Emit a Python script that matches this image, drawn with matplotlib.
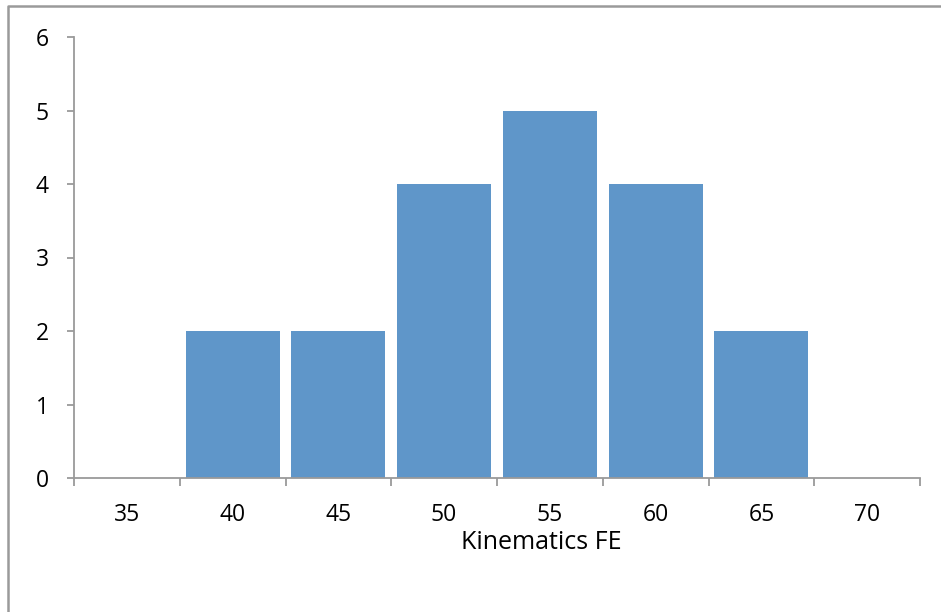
import numpy as np
import matplotlib.pyplot as plt
from matplotlib.lines import Line2D

categories = ['35', '40', '45', '50', '55', '60', '65', '70']
counts = [0, 2, 2, 4, 5, 4, 2, 0]

plt.rcParams['font.family'] = ['Open Sans', 'DejaVu Sans']

fig = plt.figure(figsize=(9.41, 6.12), dpi=100)
ax = fig.add_axes([74/941, 1 - 478/612, 846/941, 441/612])

# chart-area frame: only the top and left edges fall inside the image
frame_x = [7.5/941, 7.5/941, 1.0]
frame_y = [0.0, 1 - 5.5/612, 1 - 5.5/612]
fig.lines.append(Line2D(frame_x, frame_y, transform=fig.transFigure,
                        color='#9a9a9a', linewidth=1.8))

x = np.arange(len(categories))
ax.bar(x, counts, width=0.89, color='#5f96c9')

ax.set_xlim(-0.5, len(categories) - 0.5)
ax.set_ylim(0, 6)
ax.set_yticks(range(7))

# boundary tick marks, labels centred on categories
ax.set_xticks(np.arange(-0.5, len(categories)), labels=[])
ax.set_xticks(x, labels=categories, minor=True)
ax.tick_params(axis='x', which='major', length=6, width=1.3, color='#9a9a9a', direction='out')
ax.tick_params(axis='x', which='minor', length=0, pad=18, labelsize=16.5)
ax.tick_params(axis='y', length=5, width=1.3, color='#9a9a9a', pad=13, labelsize=16.5)

for s in ['top', 'right']:
    ax.spines[s].set_visible(False)
for s in ['left', 'bottom']:
    ax.spines[s].set_color('#9a9a9a')
    ax.spines[s].set_linewidth(1.3)

ax.set_xlabel('Kinematics FE', fontsize=18)
ax.xaxis.set_label_coords((541 - 74) / 846, -0.118)

fig.savefig('out.png', dpi=100)
